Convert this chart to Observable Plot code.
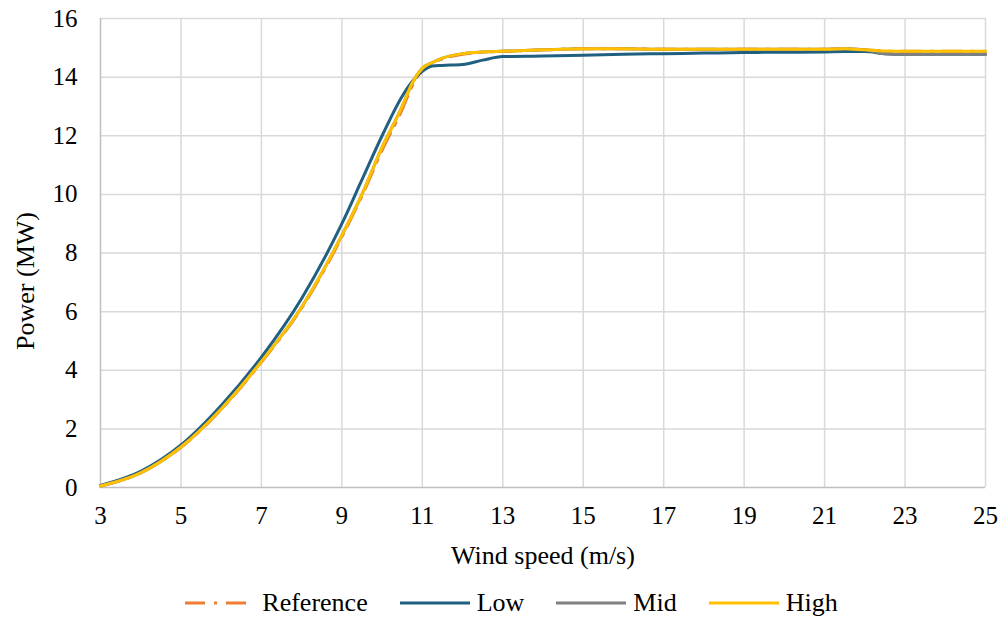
<!DOCTYPE html>
<html>
<head>
<meta charset="utf-8">
<script src="https://cdn.jsdelivr.net/npm/d3@7"></script>
<script src="https://cdn.jsdelivr.net/npm/@observablehq/plot@0.6"></script>
<style>
  html, body { margin: 0; padding: 0; background: #fff; }
  #chart { width: 1003px; }
  .legend { display: flex; justify-content: center; align-items: center; gap: 32px; font-family: "Liberation Serif", "Times New Roman", serif; font-size: 26px; line-height: 30px; color: #000; margin-top: 13px; padding-left: 20px; }
  .legend .item { display: flex; align-items: center; gap: 7px; }
  .legend svg { display: block; }
</style>
</head>
<body>
<div id="chart"></div>
<script>
const windSpeed = [3,4,5,6,7,8,9,9.5,10,10.5,10.75,11,11.25,11.5,12,12.5,13,14,15,16,17,18,19,20,21,21.5,22,22.5,23,24,25];
const referencePower = [0.05,0.5,1.37,2.66,4.28,6.12,8.55,9.95,11.5,12.9,13.7,14.25,14.48,14.62,14.78,14.85,14.88,14.93,14.97,14.97,14.95,14.95,14.95,14.95,14.95,14.97,14.93,14.89,14.88,14.88,14.88];
const lowPower = [0.07,0.55,1.45,2.8,4.45,6.45,9.0,10.5,12.0,13.35,13.85,14.2,14.38,14.4,14.43,14.58,14.7,14.72,14.75,14.78,14.8,14.82,14.84,14.85,14.86,14.87,14.87,14.8,14.78,14.78,14.78];
const midPower = [0.05,0.5,1.38,2.68,4.3,6.15,8.6,10.0,11.6,13.0,13.8,14.3,14.5,14.65,14.8,14.86,14.88,14.93,14.97,14.97,14.95,14.95,14.95,14.95,14.95,14.97,14.93,14.8,14.78,14.78,14.78];
const highPower = [0.05,0.5,1.38,2.68,4.3,6.15,8.6,10.0,11.6,13.0,13.8,14.3,14.5,14.65,14.8,14.86,14.88,14.93,14.97,14.97,14.95,14.95,14.95,14.95,14.95,14.97,14.93,14.89,14.88,14.88,14.88];
const xTicks = [3,5,7,9,11,13,15,17,19,21,23,25];
const yTicks = [0,2,4,6,8,10,12,14,16];
const seriesNames = ["Reference","Low","Mid","High"];
const seriesColors = ["#ed7d31","#1f5f80","#808080","#ffc000"];
const xTitle = "Wind speed (m/s)";
const yTitle = "Power (MW)";

const seriesValues = [referencePower, lowPower, midPower, highPower];
const rows = seriesNames.map((name, i) => windSpeed.map((w, j) => ({series: name, wind: w, power: seriesValues[i][j]})));

const font = '"Liberation Serif", "Times New Roman", serif';
const dashRef = "20,9,3,9";

const chart = Plot.plot({
  width: 1003,
  height: 575,
  marginLeft: 100,
  marginRight: 18,
  marginTop: 18,
  marginBottom: 88,
  style: {fontFamily: font, fontSize: "25px", color: "#000", background: "#fff"},
  x: {domain: [3, 25]},
  y: {domain: [0, 16]},
  marks: [
    Plot.ruleX(xTicks.slice(1), {stroke: "#d9d9d9", strokeWidth: 1.5}),
    Plot.ruleY(yTicks.slice(1), {stroke: "#d9d9d9", strokeWidth: 1.5}),
    Plot.ruleX([3], {stroke: "#bfbfbf", strokeWidth: 1.5}),
    Plot.ruleY([0], {stroke: "#bfbfbf", strokeWidth: 1.5}),
    Plot.line(rows[0], {x: "wind", y: "power", stroke: seriesColors[0], strokeWidth: 3, strokeDasharray: dashRef, curve: "monotone-x"}),
    Plot.line(rows[1], {x: "wind", y: "power", stroke: seriesColors[1], strokeWidth: 3, curve: "monotone-x"}),
    Plot.line(rows[2], {x: "wind", y: "power", stroke: seriesColors[2], strokeWidth: 3, curve: "monotone-x"}),
    Plot.line(rows[3], {x: "wind", y: "power", stroke: seriesColors[3], strokeWidth: 3, curve: "monotone-x"}),
    Plot.axisX({ticks: xTicks, tickSize: 0, tickPadding: 19, fontSize: 25, label: null}),
    Plot.axisX({ticks: [], tickSize: 0, label: xTitle, labelAnchor: "center", labelArrow: "none", labelOffset: 76, fontSize: 26}),
    Plot.axisY({ticks: yTicks, tickSize: 0, tickPadding: 23, fontSize: 25, label: null}),
    Plot.text([yTitle], {text: d => d, frameAnchor: "left", textAnchor: "middle", lineAnchor: "middle", dx: -75, dy: 28, rotate: -90, fontSize: 26, fill: "#000"})
  ]
});
document.getElementById("chart").appendChild(chart);

const legend = document.createElement("div");
legend.className = "legend";
seriesNames.forEach((name, i) => {
  const item = document.createElement("div");
  item.className = "item";
  const dash = i === 0 ? ` stroke-dasharray="${dashRef}"` : '';
  item.innerHTML = `<svg width="70" height="6"><line x1="0" y1="3" x2="70" y2="3" stroke="${seriesColors[i]}" stroke-width="3"${dash}/></svg><span>${name}</span>`;
  legend.appendChild(item);
});
document.getElementById("chart").appendChild(legend);
</script>
</body>
</html>
